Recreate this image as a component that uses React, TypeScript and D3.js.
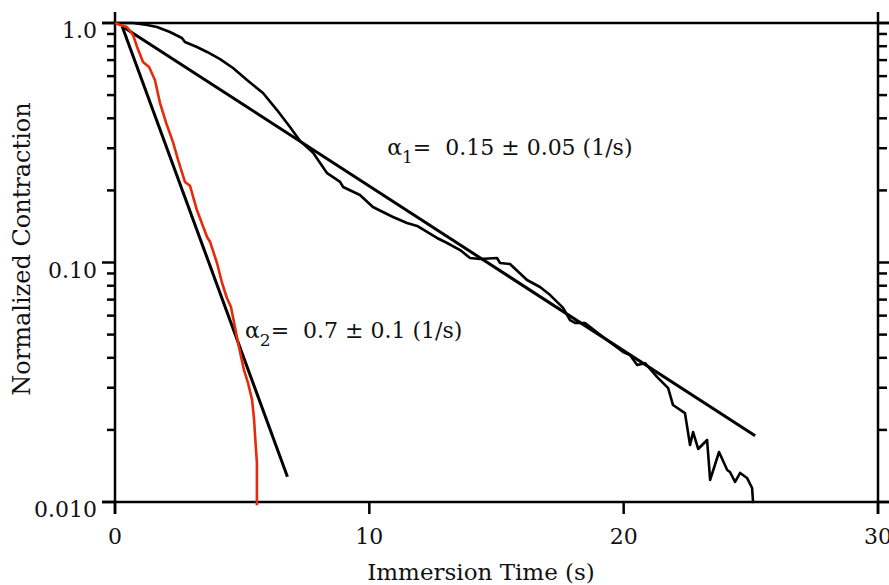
import React from "react";
import * as d3 from "d3";

// ---- data ----
const slowT = [0, 0.71, 1.26, 1.65, 2.16, 2.63, 2.75, 3.22, 3.62, 4.13, 4.64, 5.19, 5.82, 6.37, 6.88, 7.27, 7.79, 8.34, 8.85, 8.97, 9.63, 10.14, 10.93, 11.48, 11.88, 12.66, 13.06, 13.57, 13.96, 14.35, 15.02, 15.14, 15.53, 16.2, 16.71, 17.11, 17.62, 17.89, 18.09, 18.48, 19.19, 19.98, 20.25, 20.53, 20.84, 21.31, 21.75, 21.94, 22.41, 22.61, 22.73, 22.93, 23.28, 23.4, 23.75, 24.07, 24.18, 24.38, 24.58, 24.85, 25.05, 25.09];
const slowV = [1.0, 1.0, 0.981, 0.962, 0.917, 0.866, 0.833, 0.794, 0.757, 0.707, 0.649, 0.578, 0.51, 0.433, 0.368, 0.322, 0.287, 0.236, 0.217, 0.2066, 0.1913, 0.1705, 0.1549, 0.1462, 0.1421, 0.1266, 0.1206, 0.1127, 0.1044, 0.1034, 0.1044, 0.0995, 0.0986, 0.0845, 0.079, 0.0731, 0.0646, 0.0575, 0.0559, 0.0559, 0.0489, 0.0423, 0.0411, 0.0373, 0.038, 0.0333, 0.0299, 0.0254, 0.0235, 0.0173, 0.0196, 0.01665, 0.01815, 0.01236, 0.01617, 0.0136, 0.01334, 0.01213, 0.01322, 0.0126, 0.01144, 0.0099];

const fastT = [0, 0.2, 0.47, 0.71, 0.87, 1.1, 1.34, 1.57, 1.77, 2.04, 2.28, 2.48, 2.75, 2.95, 3.22, 3.62, 3.74, 4.01, 4.21, 4.4, 4.56, 4.84, 5.07, 5.23, 5.39, 5.47, 5.51, 5.58, 5.58];
const fastV = [1.0, 0.981, 0.962, 0.891, 0.794, 0.687, 0.655, 0.578, 0.463, 0.375, 0.318, 0.268, 0.217, 0.209, 0.1656, 0.1278, 0.1218, 0.0995, 0.0821, 0.0711, 0.0652, 0.0461, 0.0356, 0.0314, 0.0267, 0.022, 0.0187, 0.01455, 0.0097];

const fit1T = [0.28, 25.17];
const fit1V = [0.97, 0.0189];
const fit2T = [0.28, 6.78];
const fit2V = [0.97, 0.01275];

const xTickValues = [0, 10, 20, 30];
const xTickLabels = ["0", "10", "20", "30"];
const yTickValues = [0.01, 0.1, 1];
const yTickLabels = ["0.010", "0.10", "1.0"];

const xTitle = "Immersion Time (s)";
const yTitle = "Normalized Contraction";

const ann1 = { t: 10.7, v: 0.281, sub: "1", text: "=  0.15 ± 0.05 (1/s)" };
const ann2 = { t: 5.11, v: 0.0483, sub: "2", text: "=  0.7 ± 0.1 (1/s)" };

// ---- chart ----
const W = 889;
const H = 585;
const FONT = "'DejaVu Serif', serif";

export default function App() {
  const x = d3.scaleLinear().domain([0, 30]).range([115, 878]);
  const y = d3.scaleLog().domain([0.01, 1]).range([502, 23]);

  const line = d3
    .line<[number, number]>()
    .x((d) => x(d[0]))
    .y((d) => y(d[1]));

  const zip = (a: number[], b: number[]) => a.map((t, i) => [t, b[i]] as [number, number]);

  const minor = y.ticks().filter((v) => Math.abs(Math.log10(v) - Math.round(Math.log10(v))) > 1e-6);

  const x0 = x(0);
  const x1 = x(30);
  const yTop = y(1);
  const yBot = y(0.01);
  const stroke = "#000";
  const ink = "#111";

  return (
    <svg
      width={W}
      height={H}
      style={{ position: "absolute", left: 0, top: 0, background: "#fff" }}
      fontFamily={FONT}
    >
      <rect x={0} y={0} width={W} height={H} fill="#fff" />
      {/* frame */}
      <line x1={x0 - 13} x2={W} y1={yTop} y2={yTop} stroke={stroke} strokeWidth={2.5} />
      <line x1={x0 - 13} x2={W} y1={yBot} y2={yBot} stroke={stroke} strokeWidth={2.5} />
      <line x1={x0} x2={x0} y1={yTop - 11} y2={yBot + 12} stroke={stroke} strokeWidth={2.5} />
      <line x1={x1} x2={x1} y1={yTop - 11} y2={yBot + 12} stroke={stroke} strokeWidth={2.5} />
      {/* y ticks */}
      {minor.map((v, i) => (
        <g key={"m" + i}>
          <line x1={x0 - 8} x2={x0} y1={y(v)} y2={y(v)} stroke={stroke} strokeWidth={2.5} />
          <line x1={x1} x2={x1 + 9} y1={y(v)} y2={y(v)} stroke={stroke} strokeWidth={2.5} />
        </g>
      ))}
      {yTickValues.map((v, i) => (
        <g key={"y" + i}>
          <line x1={x0 - 13} x2={x0} y1={y(v)} y2={y(v)} stroke={stroke} strokeWidth={2.5} />
          <line x1={x1} x2={W} y1={y(v)} y2={y(v)} stroke={stroke} strokeWidth={2.5} />
          <text x={97} y={y(v) + 15} textAnchor="end" fontSize={22} fill={ink}>
            {yTickLabels[i]}
          </text>
        </g>
      ))}
      {/* x ticks */}
      {xTickValues.map((v, i) => (
        <g key={"x" + i}>
          <line x1={x(v)} x2={x(v)} y1={yBot} y2={yBot + 12} stroke={stroke} strokeWidth={2.5} />
          <text x={x(v)} y={544} textAnchor="middle" fontSize={22} fill={ink}>
            {xTickLabels[i]}
          </text>
        </g>
      ))}
      {/* titles */}
      <text x={481} y={580} textAnchor="middle" fontSize={23} fill={ink}>
        {xTitle}
      </text>
      <text
        transform={`translate(30,249) rotate(-90)`}
        textAnchor="middle"
        fontSize={24}
        fill={ink}
      >
        {yTitle}
      </text>
      {/* fits */}
      <path d={line(zip(fit1T, fit1V)) || ""} fill="none" stroke="#000" strokeWidth={3} />
      <path d={line(zip(fit2T, fit2V)) || ""} fill="none" stroke="#000" strokeWidth={3} />
      {/* data */}
      <path d={line(zip(slowT, slowV)) || ""} fill="none" stroke="#000" strokeWidth={2.6} strokeLinejoin="round" />
      <path d={line(zip(fastT, fastV)) || ""} fill="none" stroke="#e62a0a" strokeWidth={2.6} strokeLinejoin="round" />
      {/* annotations */}
      {[ann1, ann2].map((a, i) => (
        <text key={"a" + i} x={x(a.t)} y={y(a.v)} fontSize={22} fill={ink} style={{ whiteSpace: "pre" }}>
          <tspan>α</tspan>
          <tspan fontSize={17} dy={8}>{a.sub}</tspan>
          <tspan dy={-8}>{a.text}</tspan>
        </text>
      ))}
    </svg>
  );
}
